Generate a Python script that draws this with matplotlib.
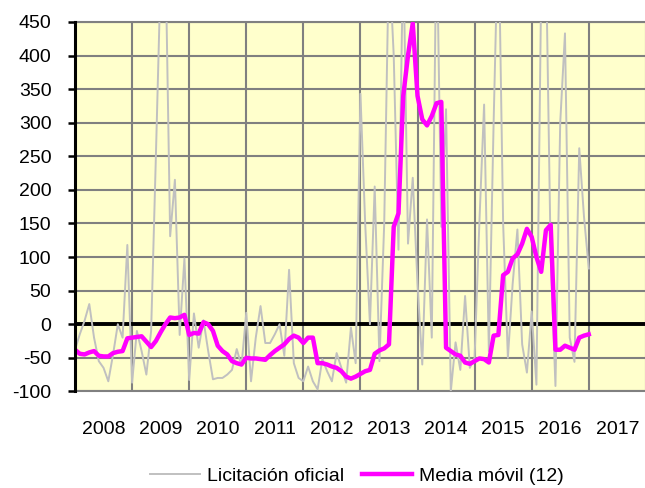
import numpy as np
import matplotlib
matplotlib.use("Agg")
import matplotlib.pyplot as plt

plt.rcParams['font.family'] = ['Liberation Sans', 'DejaVu Sans']
plt.rcParams['axes.unicode_minus'] = False

# Datos mensuales, enero 2008 - enero 2017
licitacion = [
    -38, -15, 5, 30, -20, -55, -65, -85, -45, 0, -20, 118,
    -87, -10, -40, -75, -10, 250, 520, 560, 131, 215, -16, 98,
    -83, 16, -35, 6, -40, -82, -80, -80, -75, -68, -37, -62,
    17, -85, -20, 27, -28, -28, -15, 0, -47, 81, -58, -80,
    -85, -63, -85, -97, -52, -70, -85, -43, -65, -87, -5, -58,
    343, 150, 0, 205, -55, 150, 550, 400, 111, 560, 120, 218,
    60, -60, 156, -20, 600, 145, 320, -100, -27, -68, 42, -65,
    -50, 150, 327, -40, 300, 600, 150, -50, 60, 141, -30, -72,
    19, -90, 500, 550, 100, -92, 300, 433, -20, -56, 262, 160,
    83,
]
media_movil = [
    -38, -44, -45, -42, -40, -47, -48, -48, -43, -41, -40, -21,
    -20, -19, -18, -26, -34, -25, -12, 0, 10, 9, 10, 14,
    -16, -13, -14, 3, 0, -10, -32, -40, -45, -55, -58, -60,
    -50, -51, -51, -52, -53, -46, -40, -35, -30, -22, -17, -20,
    -28, -20, -20, -58, -58, -60, -63, -65, -70, -78, -81, -78,
    -74, -70, -68, -44, -39, -36, -30, 145, 165, 340, 400, 448,
    340, 305, 296, 310, 329, 331, -35, -40, -45, -47, -57, -59,
    -55, -51, -52, -57, -17, -16, 73, 78, 98, 104, 120, 142,
    130, 100, 78, 140, 148, -38, -38, -32, -35, -38, -20, -17,
    -15,
]
anios = list(range(2008, 2018))
y_ticks = list(range(-100, 451, 50))

x = 2008 + np.arange(len(licitacion)) / 12.0

fig = plt.figure(figsize=(6.45, 4.88), dpi=100)
ax = fig.add_axes([0.1163, 0.198, 0.885, 0.757])
ax.set_facecolor('#FFFFCC')

l1, = ax.plot(x, licitacion, color='#C0C0C0', lw=1.4, zorder=3,
              solid_joinstyle='round', label='Licitación oficial')
l2, = ax.plot(x, media_movil, color='#FF00FF', lw=3.2, zorder=4,
              solid_joinstyle='round', label='Media móvil (12)')
ax.axhline(0, color='black', lw=2.8, zorder=2)

ax.set_xlim(2008, 2018)
ax.set_ylim(-100, 450)

ax.set_yticks(y_ticks)
ax.set_yticklabels([str(v) for v in y_ticks], fontsize=14)
ax.set_xticks(list(range(2008, 2019)))
ax.set_xticklabels([])
ax.set_xticks([a + 0.5 for a in anios], minor=True)
ax.set_xticklabels([str(a) for a in anios], minor=True, fontsize=14)

ax.tick_params(axis='y', length=5, width=1.8, pad=12, direction='out')
ax.tick_params(axis='x', which='both', length=0, pad=21)

ax.grid(True, which='major', color='#808080', lw=1.5, zorder=1)
ax.set_axisbelow(True)

for s in ['top', 'bottom']:
    ax.spines[s].set_color('#808080')
    ax.spines[s].set_linewidth(1.5)
ax.spines['right'].set_visible(False)
ax.spines['left'].set_linewidth(2.2)
ax.spines['left'].set_zorder(5)

fig.legend(handles=[l1, l2], loc='center', bbox_to_anchor=(0.553, 0.024),
           ncol=2, frameon=False, fontsize=14, handlelength=2.6,
           handletextpad=0.35, columnspacing=0.9)

fig.savefig('out.png', dpi=100)
